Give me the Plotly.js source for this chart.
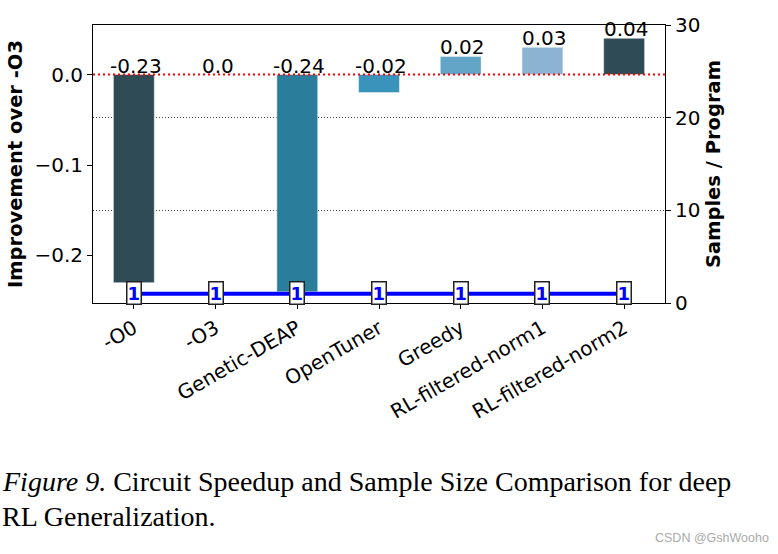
<!DOCTYPE html>
<html>
<head>
<meta charset="utf-8">
<script src="https://cdn.plot.ly/plotly-3.0.1.min.js"></script>
<style>
html, body { margin: 0; padding: 0; background: #fff; }
#chart { width: 778px; height: 554px; }
</style>
</head>
<body>
<div id="chart"></div>
<script>
// ---- data ----
const categories = ["-O0", "-O3", "Genetic-DEAP", "OpenTuner", "Greedy", "RL-filtered-norm1", "RL-filtered-norm2"];
const improvement = [-0.23, 0.0, -0.24, -0.02, 0.02, 0.03, 0.04];
const improvementLabels = ["-0.23", "0.0", "-0.24", "-0.02", "0.02", "0.03", "0.04"];
const samplesPerProgram = [1, 1, 1, 1, 1, 1, 1];
const barColors = ["#2f4b55", "#2f4b55", "#2a7e9b", "#3a93ba", "#62a5c6", "#8cb4d2", "#2f4b55"];
const captionLine1 = "<i>Figure 9.</i> Circuit Speedup and Sample Size Comparison for deep";
const captionLine2 = "RL Generalization.";
const watermark = "CSDN @GshWooho";

// ---- layout geometry (px) ----
const W = 778, H = 554;
const M = {l: 93, r: 113, t: 25, b: 251};
const pw = W - M.l - M.r, ph = H - M.t - M.b;
const px2x = px => (px - M.l) / pw;
const py2y = py => (H - M.b - py) / ph;

const font = "DejaVu Sans, sans-serif";

const traces = [
  {
    type: "bar",
    x: categories,
    y: improvement,
    width: 0.5,
    marker: {color: barColors, line: {color: "rgba(255,255,255,0.45)", width: 1}},
    yaxis: "y",
    hoverinfo: "x+y",
    showlegend: false
  },
  {
    type: "scatter",
    mode: "lines",
    x: categories,
    y: samplesPerProgram,
    yaxis: "y2",
    line: {color: "#0000ff", width: 4},
    showlegend: false
  }
];

const annotations = [];
categories.forEach((c, i) => {
  annotations.push({
    x: c, y: Math.max(improvement[i], 0), xref: "x", yref: "y",
    text: improvementLabels[i], showarrow: false,
    xanchor: "center", yanchor: "bottom", yshift: -5, xshift: 2,
    font: {family: font, size: 20, color: "#000"}
  });
  annotations.push({
    x: c, y: samplesPerProgram[i], xref: "x", yref: "y2",
    text: "<b>" + samplesPerProgram[i] + "</b>", showarrow: false,
    xanchor: "center", yanchor: "middle", yshift: 1,
    bgcolor: "#ffffff", bordercolor: "#222", borderwidth: 1.5, borderpad: 0,
    font: {family: "DejaVu Sans, sans-serif", size: 18, color: "#0000ff"}
  });
});
annotations.push({
  xref: "paper", yref: "paper", x: px2x(0), y: py2y(481),
  xanchor: "left", yanchor: "middle", showarrow: false, align: "left",
  text: captionLine1, font: {family: "Liberation Serif, Times New Roman, serif", size: 28, color: "#000"}
});
annotations.push({
  xref: "paper", yref: "paper", x: px2x(0), y: py2y(516),
  xanchor: "left", yanchor: "middle", showarrow: false, align: "left",
  text: captionLine2, font: {family: "Liberation Serif, Times New Roman, serif", size: 28, color: "#000"}
});
annotations.push({
  xref: "paper", yref: "paper", x: px2x(771), y: py2y(538),
  xanchor: "right", yanchor: "middle", showarrow: false,
  text: watermark, font: {family: "Liberation Sans, Arial, sans-serif", size: 12.5, color: "#aaaaaa"}
});

const layout = {
  width: W, height: H,
  margin: M,
  paper_bgcolor: "#fff", plot_bgcolor: "#fff",
  font: {family: font, size: 20, color: "#000"},
  xaxis: {
    type: "category", range: [-0.5, 6.5],
    showline: true, linecolor: "#000", linewidth: 1, mirror: true,
    ticks: "outside", ticklen: 5, tickcolor: "#000",
    tickangle: -30, tickfont: {family: font, size: 20},
    showgrid: false, zeroline: false
  },
  yaxis: {
    range: [-0.2525, 0.0547],
    tickvals: [0, -0.1, -0.2], ticktext: ["0.0", "\u22120.1", "\u22120.2"],
    showline: true, linecolor: "#000", linewidth: 1, mirror: true,
    ticks: "outside", ticklen: 5, tickcolor: "#000",
    tickfont: {family: font, size: 20},
    showgrid: false, zeroline: false,
    title: {text: "<b>Improvement over -O3</b>", font: {family: font, size: 19.5}, standoff: 6}
  },
  yaxis2: {
    overlaying: "y", side: "right", range: [0, 30],
    tickvals: [0, 10, 20, 30],
    ticks: "outside", ticklen: 5, tickcolor: "#000",
    tickfont: {family: font, size: 20},
    showline: true, linecolor: "#000", linewidth: 1,
    showgrid: true, gridcolor: "#444", gridwidth: 1, griddash: "1px,2px",
    zeroline: false,
    title: {text: "<b>Samples / Program</b>", font: {family: font, size: 19.5}, standoff: 6}
  },
  shapes: [{
    type: "line", xref: "paper", yref: "y", x0: 0, x1: 1, y0: 0, y1: 0,
    line: {color: "#ff0000", width: 2, dash: "2px,3px"}, layer: "above"
  }],
  annotations: annotations
};

Plotly.newPlot("chart", traces, layout, {displayModeBar: false, staticPlot: true});
</script>
</body>
</html>
